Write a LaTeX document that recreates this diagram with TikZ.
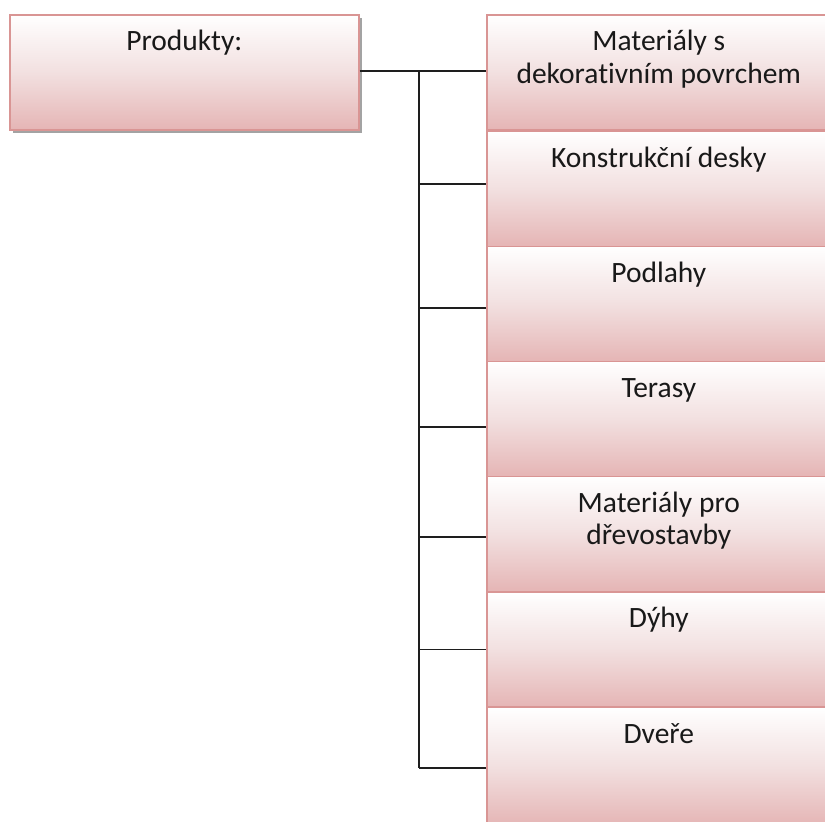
\documentclass[tikz,border=0pt]{standalone}
\usepackage{fontspec}
\setmainfont[Ligatures=NoCommon]{Carlito}
\usetikzlibrary{shadows}
\definecolor{boxline}{RGB}{217,149,148}
\definecolor{boxbot}{RGB}{229,181,181}
\definecolor{boxmid}{RGB}{242,224,224}
\definecolor{txt}{RGB}{25,25,25}
\definecolor{conn}{RGB}{30,30,30}
\tikzset{
  pbox/.style={draw=boxline, line width=1.6pt, top color=white, bottom color=boxbot, middle color=boxmid, inner sep=0pt, anchor=north west},
  rootbox/.style={pbox, minimum width=349pt, minimum height=115pt, drop shadow={shadow xshift=3pt, shadow yshift=-3pt, fill=black!45, opacity=.8}},
  itembox/.style={pbox, minimum width=344pt, minimum height=115pt},
  lbl/.style={anchor=north, inner sep=0pt, align=center, text=txt, font=\fontsize{29.5}{32.5}\selectfont, yshift=-12.5pt},
  conn/.style={draw=conn, line width=1.6pt}
}
\newcommand{\fst}{\rule{0pt}{24pt}}
\begin{document}
\begin{tikzpicture}[x=1pt,y=1pt]
\useasboundingbox (0,0) rectangle (825,-822);
\node[rootbox] (root) at (9,-14) {};
\node[lbl] (rootl) at (root.north) {\fst Produkty:};
\node[itembox] (b1) at (486,-14) {};
\node[itembox] (b2) at (486,-130.5) {};
\node[itembox] (b3) at (486,-245.5) {};
\node[itembox] (b4) at (486,-360.5) {};
\node[itembox] (b5) at (486,-475.5) {};
\node[itembox] (b6) at (486,-591) {};
\node[itembox, minimum height=118pt] (b7) at (486,-706.5) {};
\node[lbl] (l1) at (b1.north) {\fst Materiály s\\dekorativním povrchem};
\node[lbl] (l2) at (b2.north) {\fst Konstrukční desky};
\node[lbl] (l3) at (b3.north) {\fst Podlahy};
\node[lbl] (l4) at (b4.north) {\fst Terasy};
\node[lbl] (l5) at (b5.north) {\fst Materiály pro\\dřevostavby};
\node[lbl] (l6) at (b6.north) {\fst Dýhy};
\node[lbl] (l7) at (b7.north) {\fst Dveře};
\coordinate (trunk) at (419,-71);
\coordinate (tend) at (419,-768);
\draw[conn] (root.east |- trunk) -- (b1.west |- trunk);
\draw[conn] (trunk) -- (tend);
\draw[conn] ([yshift=5pt]trunk |- b2.west) -- ([yshift=5pt]b2.west);
\draw[conn] ([yshift=-4pt]trunk |- b3.west) -- ([yshift=-4pt]b3.west);
\draw[conn] ([yshift=-8pt]trunk |- b4.west) -- ([yshift=-8pt]b4.west);
\draw[conn] ([yshift=-3pt]trunk |- b5.west) -- ([yshift=-3pt]b5.west);
\draw[conn] (trunk |- b6.west) -- (b6.west);
\draw[conn] (tend) -- (b7.west |- tend);
\end{tikzpicture}
\end{document}
